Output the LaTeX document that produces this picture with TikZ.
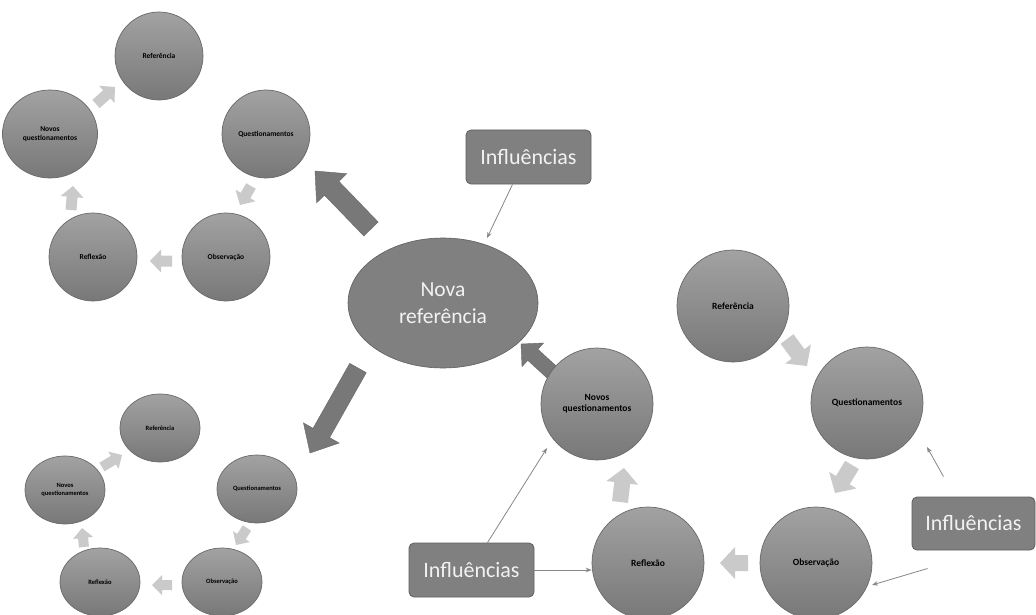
\documentclass[tikz,border=0pt]{standalone}
\usepackage{fontspec}
\setmainfont{Carlito}
\usetikzlibrary{calc,shapes.geometric,arrows.meta}
\definecolor{circtop}{RGB}{162,162,162}
\definecolor{circbot}{RGB}{120,120,120}
\definecolor{circedge}{RGB}{105,105,105}
\definecolor{boxfill}{RGB}{128,128,128}
\definecolor{boxedge}{RGB}{95,95,95}
\definecolor{darkarr}{RGB}{120,120,120}
\definecolor{lightarr}{RGB}{202,202,202}
\definecolor{thinline}{RGB}{135,135,135}
\definecolor{wtext}{RGB}{242,242,242}
\newcommand{\blockarr}[6]{%
  \coordinate (bab) at ($(#2)!#5!(#1)$);
  \fill[#6] ($(#1)!#3!90:(#2)$) -- ($(bab)!#3!-90:(#1)$) -- ($(bab)!#4!-90:(#1)$) -- (#2)
    -- ($(bab)!#4!90:(#1)$) -- ($(bab)!#3!90:(#1)$) -- ($(#1)!#3!-90:(#2)$) -- cycle;
}
\tikzset{
  stage/.style={ellipse, top color=circtop, bottom color=circbot, draw=circedge, line width=0.7pt, inner sep=0pt, align=center, text=black},
  tlstage/.style={stage, minimum width=88pt, minimum height=88pt, font=\bfseries\fontsize{7.5}{8.5}\selectfont},
  blstage/.style={stage, minimum width=80pt, minimum height=68pt, font=\bfseries\fontsize{6.5}{7.5}\selectfont},
  rstage/.style={stage, minimum width=112pt, minimum height=112pt, font=\bfseries\fontsize{9.5}{11}\selectfont},
  inflbox/.style={rectangle, rounded corners=5pt, fill=boxfill, draw=boxedge, line width=0.8pt, text=wtext, font=\fontsize{22}{26}\selectfont, minimum width=125pt, minimum height=54pt, inner sep=0pt},
  bigell/.style={ellipse, fill=boxfill, draw=boxedge, line width=0.6pt, text=wtext, align=center, font=\fontsize{21.5}{27}\selectfont, minimum width=190pt, minimum height=130pt, inner sep=0pt},
  darkfill/.style={fill=darkarr, draw=darkarr!85!black, line width=0.4pt},
  lightfill/.style={fill=lightarr},
  infline/.style={draw=thinline, line width=0.8pt, -{Stealth[length=6pt,width=4.5pt]}}
}
\begin{document}
\begin{tikzpicture}[x=1pt,y=-1pt]
\fill[white] (0,0) rectangle (1036,615);
\useasboundingbox (0,0) rectangle (1036,615);

% block arrow end points
\coordinate (d1t) at (371,229); \coordinate (d1h) at (315,171);
\coordinate (d2t) at (358,368); \coordinate (d2h) at (310,453);
\coordinate (d3t) at (556,376); \coordinate (d3h) at (521,344);

\coordinate (ta1) at (96,104);  \coordinate (th1) at (115,87);
\coordinate (ta2) at (251,186); \coordinate (th2) at (240,205);
\coordinate (ta3) at (172,261); \coordinate (th3) at (150,261);
\coordinate (ta4) at (71,210);  \coordinate (th4) at (73,186);

\coordinate (ba1) at (102,467); \coordinate (bh1) at (122,455);
\coordinate (ba2) at (247,528); \coordinate (bh2) at (236,545);
\coordinate (ba3) at (172,585); \coordinate (bh3) at (152,585);
\coordinate (ba4) at (84,547);  \coordinate (bh4) at (82,528);

\coordinate (ra1) at (787,339); \coordinate (rh1) at (807,366);
\coordinate (ra2) at (852,465); \coordinate (rh2) at (835,493);
\coordinate (ra3) at (748,563); \coordinate (rh3) at (720,563);
\coordinate (ra4) at (620,502); \coordinate (rh4) at (624,468);

% dark block arrows (behind the shapes)
\blockarr{d1t}{d1h}{10pt}{21pt}{24pt}{darkfill}
\blockarr{d2t}{d2h}{9.5pt}{20.5pt}{23pt}{darkfill}
\blockarr{d3t}{d3h}{7.5pt}{16pt}{16pt}{darkfill}

% light block arrows
\blockarr{ta1}{th1}{5.5pt}{11.5pt}{11pt}{lightfill}
\blockarr{ta2}{th2}{5.5pt}{11.5pt}{11pt}{lightfill}
\blockarr{ta3}{th3}{5.5pt}{11.5pt}{11pt}{lightfill}
\blockarr{ta4}{th4}{5.5pt}{11.5pt}{11pt}{lightfill}

\blockarr{ba1}{bh1}{5pt}{10pt}{10pt}{lightfill}
\blockarr{ba2}{bh2}{5pt}{10pt}{10pt}{lightfill}
\blockarr{ba3}{bh3}{5pt}{10pt}{10pt}{lightfill}
\blockarr{ba4}{bh4}{5pt}{10pt}{10pt}{lightfill}

\blockarr{ra1}{rh1}{8pt}{16pt}{15pt}{lightfill}
\blockarr{ra2}{rh2}{8pt}{16pt}{15pt}{lightfill}
\blockarr{ra3}{rh3}{8pt}{16pt}{15pt}{lightfill}
\blockarr{ra4}{rh4}{8pt}{16pt}{15pt}{lightfill}

% top-left cycle
\node[tlstage] (tlR) at (159,56) {Referência};
\node[tlstage] (tlQ) at (266,134) {Questionamentos};
\node[tlstage] (tlO) at (226,257) {Observação};
\node[tlstage] (tlF) at (93,257) {Reflexão};
\node[tlstage, minimum width=95pt] (tlN) at (50,134) {Novos\\questionamentos};

% bottom-left cycle
\node[blstage] (blR) at (160,428) {Referência};
\node[blstage] (blQ) at (257,489) {Questionamentos};
\node[blstage] (blO) at (222,582) {Observação};
\node[blstage] (blF) at (100,582) {Reflexão};
\node[blstage] (blN) at (65,490) {Novos\\questionamentos};

% right cycle
\node[rstage] (rR) at (733,306) {Referência};
\node[rstage] (rQ) at (867,403) {Questionamentos};
\node[rstage] (rO) at (816,563) {Observação};
\node[rstage] (rF) at (648,563) {Reflexão};
\node[rstage] (rN) at (597,404) {Novos\\questionamentos};

% centre
\node[bigell] (nova) at (443,303) {Nova\\referência};
\node[inflbox] (inf1) at (528.5,157) {Influências};
\node[inflbox, minimum width=123pt, minimum height=53pt] (inf2) at (973.5,523.5) {Influências};
\node[inflbox] (inf3) at (471.5,570) {Influências};

% influence connectors
\draw[infline] ([xshift=-16pt]inf1.south) -- ($(nova.center)+(44,-65)$);
\draw[infline] ($(inf3.north)+(16,0)$) -- ($(rN.center)+(-50,44)$);
\draw[infline] (inf3.east) -- (inf3.east -| rF.west);
\draw[infline] ($(inf2.north)+(-30,-20)$) -- ($(rQ.center)+(60,44)$);
\draw[infline] ($(inf2.center)+(-46,45)$) -- ($(rO.center)+(56,22)$);
\end{tikzpicture}
\end{document}
